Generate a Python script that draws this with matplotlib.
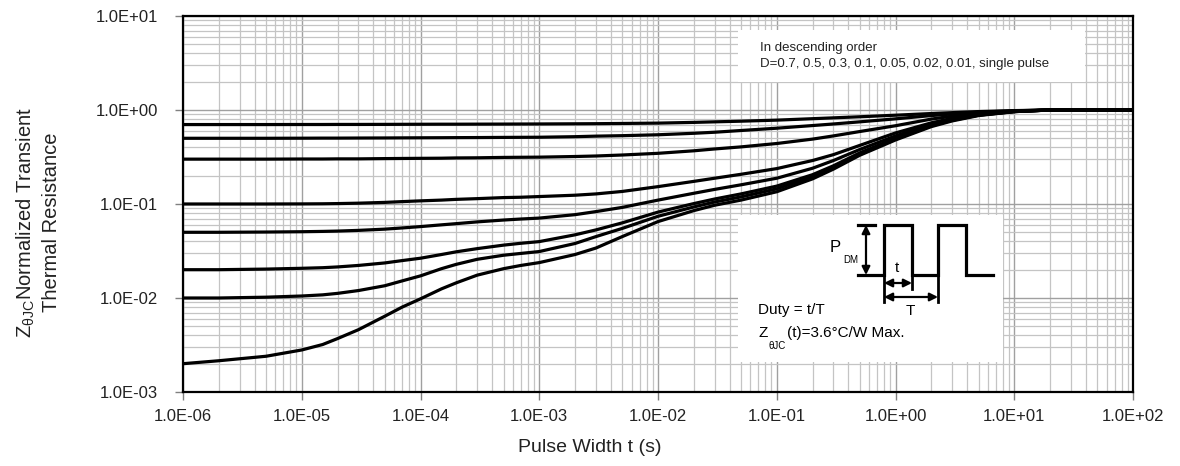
import matplotlib
matplotlib.use("Agg")
import matplotlib.pyplot as plt
from matplotlib.ticker import LogLocator, FuncFormatter, NullFormatter
from matplotlib.patches import Rectangle

plt.rcParams["font.family"] = ["Liberation Sans", "DejaVu Sans"]

# pulse width (s) at which each curve was read
pulse_width = [1e-6, 2e-6, 5e-6, 1e-5, 1.5e-5, 2e-5, 3e-5, 5e-5, 7e-5,
               1e-4, 1.5e-4, 2e-4, 3e-4, 5e-4, 7e-4, 1e-3, 2e-3, 3e-3, 5e-3,
               1e-2, 2e-2, 3e-2, 5e-2, 1e-1, 2e-1, 3e-1, 5e-1,
               1e0, 2e0, 3e0, 5e0, 1e1, 2e1, 5e1, 1e2]

# normalized transient thermal resistance, one list per duty cycle
z_d070 = [0.700, 0.700, 0.700, 0.701, 0.701, 0.702, 0.702, 0.703, 0.704,
          0.705, 0.706, 0.706, 0.707, 0.708, 0.709, 0.710, 0.713, 0.715, 0.719,
          0.725, 0.738, 0.748, 0.760, 0.780, 0.808, 0.825, 0.847,
          0.880, 0.917, 0.937, 0.962, 0.985, 1.0, 1.0, 1.0]
z_d050 = [0.500, 0.500, 0.500, 0.501, 0.502, 0.502, 0.503, 0.504, 0.505,
          0.506, 0.507, 0.508, 0.509, 0.511, 0.512, 0.513, 0.520, 0.527, 0.533,
          0.545, 0.565, 0.580, 0.605, 0.640, 0.683, 0.710, 0.748,
          0.805, 0.872, 0.907, 0.947, 0.980, 1.0, 1.0, 1.0]
z_d030 = [0.300, 0.300, 0.300, 0.301, 0.301, 0.302, 0.302, 0.304, 0.305,
          0.306, 0.307, 0.309, 0.310, 0.313, 0.314, 0.315, 0.320, 0.324, 0.332,
          0.346, 0.368, 0.385, 0.405, 0.440, 0.490, 0.530, 0.590,
          0.680, 0.800, 0.860, 0.922, 0.975, 1.0, 1.0, 1.0]
z_d010 = [0.100, 0.100, 0.100, 0.1002, 0.1005, 0.101, 0.102, 0.104, 0.106,
          0.108, 0.110, 0.112, 0.114, 0.117, 0.118, 0.120, 0.124, 0.128, 0.136,
          0.153, 0.174, 0.188, 0.207, 0.238, 0.290, 0.335, 0.420,
          0.570, 0.730, 0.815, 0.900, 0.967, 1.0, 1.0, 1.0]
z_d005 = [0.0500, 0.0500, 0.0503, 0.0507, 0.0511, 0.0515, 0.0524, 0.0540, 0.0556,
          0.0575, 0.0600, 0.0618, 0.0645, 0.0675, 0.0692, 0.0708, 0.077, 0.083, 0.092,
          0.110, 0.130, 0.143, 0.160, 0.188, 0.240, 0.290, 0.380,
          0.530, 0.705, 0.795, 0.890, 0.964, 1.0, 1.0, 1.0]
z_d002 = [0.0200, 0.0200, 0.0203, 0.0207, 0.0210, 0.0214, 0.0222, 0.0236, 0.0250,
          0.0265, 0.0290, 0.0310, 0.0335, 0.0365, 0.0382, 0.0398, 0.047, 0.053, 0.063,
          0.082, 0.101, 0.113, 0.128, 0.155, 0.205, 0.255, 0.350,
          0.500, 0.690, 0.783, 0.884, 0.962, 1.0, 1.0, 1.0]
z_d001 = [0.0100, 0.0100, 0.0102, 0.0105, 0.0108, 0.0112, 0.0120, 0.0135, 0.0152,
          0.0172, 0.0205, 0.0228, 0.0258, 0.0285, 0.0298, 0.0312, 0.038, 0.045, 0.055,
          0.074, 0.093, 0.105, 0.119, 0.145, 0.195, 0.245, 0.340,
          0.490, 0.680, 0.777, 0.880, 0.961, 1.0, 1.0, 1.0]
z_single = [0.0020, 0.00215, 0.0024, 0.0028, 0.0032, 0.0037, 0.0046, 0.0064, 0.0080,
            0.0098, 0.0125, 0.0145, 0.0175, 0.0205, 0.0222, 0.0238, 0.029, 0.034, 0.045,
            0.065, 0.085, 0.097, 0.110, 0.135, 0.185, 0.235, 0.330,
            0.480, 0.665, 0.765, 0.872, 0.960, 1.0, 1.0, 1.0]

curves = [z_d070, z_d050, z_d030, z_d010, z_d005, z_d002, z_d001, z_single]

x_ticks = [1e-6, 1e-5, 1e-4, 1e-3, 1e-2, 1e-1, 1e0, 1e1, 1e2]
y_ticks = [1e-3, 1e-2, 1e-1, 1e0, 1e1]


def sci(v, pos=None):
    return f"{v:.1E}"


def main():
    fig = plt.figure(figsize=(11.8, 4.66), dpi=100)
    ax = fig.add_axes([0.1551, 0.1588, 0.8051, 0.8069])

    for z in curves:
        ax.plot(pulse_width, z, color="black", lw=2.3, solid_capstyle="round",
                solid_joinstyle="round", zorder=3)

    ax.set_xscale("log")
    ax.set_yscale("log")
    ax.set_xlim(x_ticks[0], x_ticks[-1])
    ax.set_ylim(y_ticks[0], y_ticks[-1])
    ax.set_xticks(x_ticks)
    ax.set_yticks(y_ticks)
    ax.xaxis.set_minor_locator(LogLocator(base=10, subs=range(2, 10), numticks=100))
    ax.yaxis.set_minor_locator(LogLocator(base=10, subs=range(2, 10), numticks=100))
    ax.xaxis.set_major_formatter(FuncFormatter(sci))
    ax.yaxis.set_major_formatter(FuncFormatter(sci))
    ax.xaxis.set_minor_formatter(NullFormatter())
    ax.yaxis.set_minor_formatter(NullFormatter())

    ax.grid(which="major", color="#a0a0a0", lw=1.0)
    ax.grid(which="minor", color="#c4c4c4", lw=0.9)
    ax.set_axisbelow(True)
    ax.tick_params(which="major", length=6, width=1, color="#808080",
                   labelsize=12, colors="#222222")
    ax.tick_params(axis="y", which="major", pad=12)
    ax.tick_params(axis="x", which="major", pad=6)
    ax.tick_params(which="minor", length=0)
    for side in ax.spines.values():
        side.set_color("black")
        side.set_linewidth(1.6)

    fig.text(0.5, 1 - 447 / 466, "Pulse Width t (s)", ha="center", va="center",
             fontsize=14, color="#222222")
    fig.text(38 / 1180, 1 - 222 / 466,
             "Z$_{\\mathregular{\\theta JC}}$Normalized Transient\nThermal Resistance",
             rotation=90, ha="center", va="center", fontsize=14.5,
             color="#222222", linespacing=1.35)

    # duty-cycle note
    ax.add_patch(Rectangle((738 / 1180, 1 - 82 / 466), 347 / 1180, 52 / 466,
                           transform=fig.transFigure, facecolor="white",
                           edgecolor="none", zorder=4))
    fig.text(760 / 1180, 1 - 48 / 466, "In descending order", fontsize=9.5,
             va="center", zorder=5, color="#222222")
    fig.text(760 / 1180, 1 - 64 / 466,
             "D=0.7, 0.5, 0.3, 0.1, 0.05, 0.02, 0.01, single pulse", fontsize=9.5,
             va="center", zorder=5, color="#222222")

    # pulse train sketch, drawn in pixel-like units inside its own box
    ins = fig.add_axes([738 / 1180, 1 - 362 / 466, 265 / 1180, 147 / 466])
    ins.set_xlim(738, 1003)
    ins.set_ylim(362, 215)
    ins.axis("off")
    ins.add_patch(Rectangle((738, 215), 265, 147, facecolor="white", edgecolor="none"))
    wave_x = [858, 884, 884, 912, 912, 938, 938, 966, 966, 993]
    wave_y = [275, 275, 225, 225, 275, 275, 225, 225, 275, 275]
    ins.plot(wave_x, wave_y, color="black", lw=2.3, solid_joinstyle="miter")
    ins.plot([858, 875], [225, 225], color="black", lw=2.3)
    arrow = dict(arrowstyle="<|-|>", color="black", lw=1.6, mutation_scale=12,
                 shrinkA=0, shrinkB=0)
    ins.annotate("", xy=(866, 225), xytext=(866, 275), arrowprops=arrow)
    ins.plot([884, 884], [275, 302], color="black", lw=2)
    ins.plot([912, 912], [275, 289], color="black", lw=2)
    ins.plot([938, 938], [275, 302], color="black", lw=2)
    ins.annotate("", xy=(884, 283), xytext=(912, 283), arrowprops=arrow)
    ins.annotate("", xy=(884, 297), xytext=(938, 297), arrowprops=arrow)
    ins.text(835, 247, "P", fontsize=12, ha="center", va="center")
    ins.text(851, 260, "DM", fontsize=7, ha="center", va="center")
    ins.text(897, 268, "t", fontsize=11, ha="center", va="center")
    ins.text(910, 311, "T", fontsize=11, ha="center", va="center")
    ins.text(758, 310, "Duty = t/T", fontsize=11, va="center")
    ins.text(758, 333, "Z", fontsize=11, va="center")
    ins.text(768, 346, "\u03b8JC", fontsize=7, va="center")
    ins.text(787, 333, "(t)=3.6\u00b0C/W Max.", fontsize=11, va="center")

    fig.savefig("out.png", dpi=100)


if __name__ == "__main__":
    main()
